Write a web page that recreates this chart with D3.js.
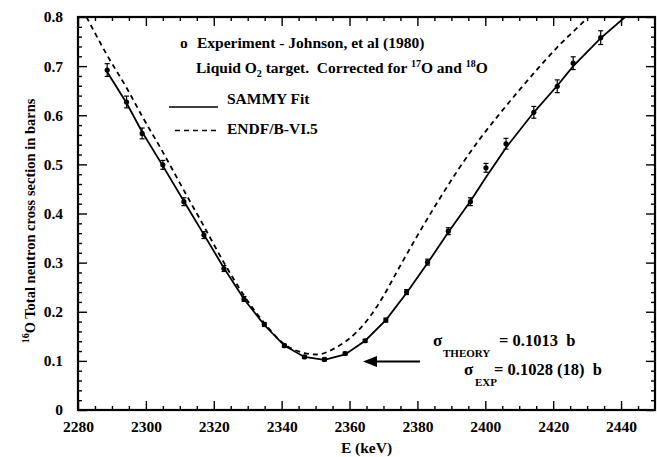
<!DOCTYPE html>
<html><head><meta charset="utf-8">
<script src="https://cdn.jsdelivr.net/npm/d3@7"></script>
<style>
body{margin:0;background:#fff}
text{font-family:"Liberation Serif","Times New Roman",serif;font-weight:bold;fill:#000}
</style>
</head><body>
<svg id="c" width="657" height="457"></svg>
<script>
// Experimental data (Johnson et al. 1980)
const expE = [2288.6,2294.3,2298.9,2305.0,2311.2,2317.1,2323.0,2328.9,2334.9,2340.8,2346.7,2352.6,2358.7,2364.6,2370.7,2376.8,2383.0,2389.1,2395.6,2400.2,2406.1,2414.3,2421.2,2425.9,2434.0];
const expSigma = [0.692,0.627,0.563,0.499,0.424,0.356,0.288,0.226,0.174,0.131,0.108,0.103,0.115,0.141,0.183,0.240,0.301,0.364,0.424,0.493,0.542,0.606,0.659,0.706,0.758];
const expErr = [0.013,0.012,0.011,0.009,0.008,0.007,0.006,0.005,0.004,0.003,0.003,0.003,0.003,0.003,0.004,0.005,0.006,0.007,0.008,0.009,0.011,0.012,0.013,0.013,0.014];
// SAMMY fit
const fitE = [2288.6,2294.3,2298.9,2305.0,2311.2,2317.1,2323.0,2328.9,2334.9,2340.8,2346.7,2352.6,2358.7,2364.6,2370.7,2376.8,2383.0,2389.1,2395.6,2400.2,2406.1,2414.3,2421.2,2425.9,2434.0,2441.2];
const fitSigma = [0.688,0.625,0.566,0.497,0.425,0.357,0.289,0.226,0.173,0.131,0.108,0.102,0.113,0.141,0.183,0.238,0.299,0.362,0.425,0.474,0.534,0.606,0.660,0.700,0.757,0.800];
// ENDF/B-VI.5
const endfE = [2282.5,2288.6,2294.3,2298.9,2305.0,2311.2,2317.1,2323.0,2328.9,2334.9,2340.8,2346.7,2350.3,2356.0,2362.0,2366.0,2370.0,2374.0,2380.0,2386.0,2392.0,2398.0,2404.0,2410.0,2416.0,2422.0,2428.0,2430.4];
const endfSigma = [0.800,0.722,0.656,0.598,0.525,0.447,0.374,0.300,0.233,0.177,0.134,0.116,0.113,0.127,0.158,0.190,0.232,0.282,0.355,0.424,0.489,0.548,0.601,0.651,0.699,0.744,0.784,0.800];
// ticks
const xMajor = [2280,2300,2320,2340,2360,2380,2400,2420,2440];
const xMinor = d3.range(2285,2450,5).filter(v => v % 20 !== 0);
const yMajor = [0,0.1,0.2,0.3,0.4,0.5,0.6,0.7,0.8];
const yMinor = d3.range(1,40).map(i => i*0.02).filter((v,i) => (i+1) % 5 !== 0);

const svg = d3.select("#c");
const L=78, R=655, T=17, B=410;
const x = d3.scaleLinear().domain([2280,2450]).range([L,R]);
const y = d3.scaleLinear().domain([0,0.8]).range([B,T]);

svg.append("defs").append("clipPath").attr("id","clip")
  .append("rect").attr("x",L).attr("y",T).attr("width",R-L).attr("height",B-T);

function styleAxis(g){
  g.select(".domain").remove();
  g.selectAll(".tick line").attr("stroke","#000").attr("stroke-width",1.4);
  g.selectAll("text").attr("font-family",null).attr("font-size","15.5px").attr("fill","#000");
  g.attr("font-family",null).attr("font-size",null);
}
const fmtY = d => d===0 ? "0" : d.toFixed(1);

svg.append("g").attr("transform",`translate(0,${B})`)
  .call(d3.axisBottom(x).tickValues(xMajor).tickSize(-9).tickPadding(11).tickFormat(d3.format("d"))).call(styleAxis);
svg.append("g").attr("transform",`translate(0,${B})`)
  .call(d3.axisBottom(x).tickValues(xMinor).tickSize(-4).tickFormat("")).call(styleAxis);
svg.append("g").attr("transform",`translate(0,${T})`)
  .call(d3.axisTop(x).tickValues(xMajor).tickSize(-9).tickFormat("")).call(styleAxis);
svg.append("g").attr("transform",`translate(0,${T})`)
  .call(d3.axisTop(x).tickValues(xMinor).tickSize(-4).tickFormat("")).call(styleAxis);
svg.append("g").attr("transform",`translate(${L},0)`)
  .call(d3.axisLeft(y).tickValues(yMajor).tickSize(-9).tickPadding(15).tickFormat(fmtY)).call(styleAxis);
svg.append("g").attr("transform",`translate(${L},0)`)
  .call(d3.axisLeft(y).tickValues(yMinor).tickSize(-4).tickFormat("")).call(styleAxis);
svg.append("g").attr("transform",`translate(${R},0)`)
  .call(d3.axisRight(y).tickValues(yMajor).tickSize(-9).tickFormat("")).call(styleAxis);
svg.append("g").attr("transform",`translate(${R},0)`)
  .call(d3.axisRight(y).tickValues(yMinor).tickSize(-4).tickFormat("")).call(styleAxis);

svg.append("rect").attr("x",L).attr("y",T).attr("width",R-L).attr("height",B-T)
  .attr("fill","none").attr("stroke","#000").attr("stroke-width",2.2);

const plot = svg.append("g").attr("clip-path","url(#clip)");
const line = d3.line().x(d=>x(d[0])).y(d=>y(d[1]));

plot.append("path").datum(endfE.map((e,i)=>[e,endfSigma[i]]))
  .attr("d", line.curve(d3.curveMonotoneX)).attr("fill","none")
  .attr("stroke","#000").attr("stroke-width",1.8).attr("stroke-dasharray","5,4");
plot.append("path").datum(fitE.map((e,i)=>[e,fitSigma[i]]))
  .attr("d", d3.line().x(d=>x(d[0])).y(d=>y(d[1])).curve(d3.curveLinear)).attr("fill","none")
  .attr("stroke","#000").attr("stroke-width",1.8);

const pts = expE.map((e,i)=>({e, s:expSigma[i], err:expErr[i]}));
const eb = plot.append("g").attr("stroke","#000").attr("stroke-width",1.2);
pts.forEach(p=>{
  const cx=x(p.e), y1=y(p.s-p.err), y2=y(p.s+p.err);
  eb.append("line").attr("x1",cx).attr("x2",cx).attr("y1",y1).attr("y2",y2);
  eb.append("line").attr("x1",cx-2.5).attr("x2",cx+2.5).attr("y1",y1).attr("y2",y1);
  eb.append("line").attr("x1",cx-2.5).attr("x2",cx+2.5).attr("y1",y2).attr("y2",y2);
});
plot.selectAll("circle.pt").data(pts).join("circle").attr("class","pt")
  .attr("cx",d=>x(d.e)).attr("cy",d=>y(d.s)).attr("r",2.6).attr("fill","#000");

// Legend
const fs = "15.5px";
svg.append("text").attr("x",180).attr("y",48).attr("font-size",fs).text("o");
svg.append("text").attr("x",197).attr("y",48).attr("font-size",fs).text("Experiment - Johnson, et al (1980)");
const t2 = svg.append("text").attr("x",196).attr("y",73).attr("font-size",fs).attr("xml:space","preserve");
t2.append("tspan").text("Liquid O");
t2.append("tspan").attr("font-size","10px").attr("dy",4).text("2");
t2.append("tspan").attr("dy",-4).text(" target.  Corrected for ");
t2.append("tspan").attr("font-size","10px").attr("dy",-6).text("17");
t2.append("tspan").attr("dy",6).text("O and ");
t2.append("tspan").attr("font-size","10px").attr("dy",-6).text("18");
t2.append("tspan").attr("dy",6).text("O");

svg.append("line").attr("x1",169).attr("x2",218).attr("y1",107).attr("y2",107)
  .attr("stroke","#000").attr("stroke-width",1.3);
svg.append("text").attr("x",227).attr("y",104).attr("font-size",fs).text("SAMMY Fit");
svg.append("line").attr("x1",175).attr("x2",218).attr("y1",130.5).attr("y2",130.5)
  .attr("stroke","#000").attr("stroke-width",1.6).attr("stroke-dasharray","5,4");
svg.append("text").attr("x",227).attr("y",134).attr("font-size",fs).text("ENDF/B-VI.5");

// Annotation
const af = "16.5px";
svg.append("text").attr("x",433).attr("y",346).attr("font-size","17px").text("σ");
svg.append("text").attr("x",443).attr("y",357).attr("font-size","11px").text("THEORY");
svg.append("text").attr("x",499).attr("y",346).attr("font-size",af).attr("xml:space","preserve").text("= 0.1013  b");
svg.append("text").attr("x",464).attr("y",375).attr("font-size","17px").text("σ");
svg.append("text").attr("x",475).attr("y",386).attr("font-size","11px").text("EXP");
svg.append("text").attr("x",494).attr("y",375).attr("font-size",af).attr("xml:space","preserve").text("= 0.1028 (18)  b");

svg.append("line").attr("x1",372).attr("x2",420).attr("y1",361.5).attr("y2",361.5)
  .attr("stroke","#000").attr("stroke-width",2);
svg.append("path").attr("d","M363,361.5 L377,356 L377,367 Z").attr("fill","#000");

// Axis titles
svg.append("text").attr("x",(L+R)/2).attr("y",453).attr("text-anchor","middle")
  .attr("font-size",fs).text("E (keV)");
const yl = svg.append("text").attr("transform",`translate(35,221) rotate(-90)`)
  .attr("text-anchor","middle").attr("font-size","14.5px");
yl.append("tspan").attr("font-size","10px").attr("dy",-6).text("16");
yl.append("tspan").attr("dy",6).text("O Total neutron cross section in barns");
</script>
</body></html>
